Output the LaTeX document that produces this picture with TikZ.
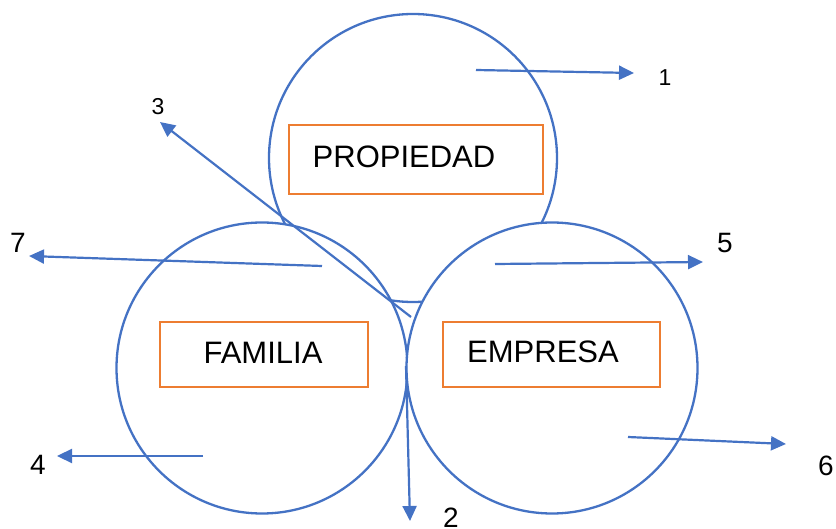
\documentclass[tikz,border=0pt]{standalone}
\usepackage{fontspec}
\setmainfont{Liberation Sans}
\usetikzlibrary{arrows.meta}
\definecolor{cblue}{HTML}{4472C4}
\definecolor{corange}{HTML}{ED7D31}
\tikzset{
  ring/.style={circle, draw=cblue, fill=white, line width=2.3pt, inner sep=0pt},
  box/.style={rectangle, draw=corange, line width=2pt, inner sep=0pt},
  word/.style={font=\fontsize{31}{31}\selectfont, inner sep=0pt},
  num/.style={font=\fontsize{28}{28}\selectfont, inner sep=0pt},
  smallnum/.style={font=\fontsize{23}{23}\selectfont, inner sep=0pt},
  arr/.style={draw=cblue, line width=2.2pt, -{Triangle[length=15pt,width=14pt]}}
}
\begin{document}
\begin{tikzpicture}[x=1pt,y=-1pt]
\useasboundingbox (0,0) rectangle (836,529);
% circles (lower ones drawn over the top one)
\node[ring, minimum size=288pt] (prop) at (413,158) {};
\node[ring, minimum size=291pt] (fam) at (262,368) {};
\node[ring, minimum size=291pt] (emp) at (552,368) {};
% boxes
\node[box, minimum width=254pt, minimum height=69pt] (bprop) at (416,160) {};
\node[box, minimum width=208pt, minimum height=65pt] (bfam) at (264,355) {};
\node[box, minimum width=217pt, minimum height=65pt] (bemp) at (551,355) {};
\node[word] (tprop) at (404,157) {PROPIEDAD};
\node[word] (tfam) at (263,353) {FAMILIA};
\node[word] (temp) at (543,352) {EMPRESA};
% arrow coordinates
\coordinate (s1) at (476,70);  \coordinate (e1) at (634,73);
\coordinate (s3) at (411,317); \coordinate (e3) at (160,122);
\coordinate (s7) at (322,266); \coordinate (e7) at (29,256);
\coordinate (s5) at (495,264); \coordinate (e5) at (703,262);
\coordinate (s4) at (203,456); \coordinate (e4) at (57,456);
\coordinate (s2) at (406,366); \coordinate (e2) at (410,521);
\coordinate (s6) at (628,437); \coordinate (e6) at (786,444);
% labels
\node[smallnum] (l1) at (665,78) {1};
\node[smallnum] (l3) at (158,107) {3};
\node[num] (l7) at (18,243) {7};
\node[num] (l5) at (725,243) {5};
\node[num] (l4) at (38,465) {4};
\node[num] (l6) at (826,466) {6};
\node[num] (l2) at (451,518) {2};
% arrows
\draw[arr] (s1) -- (e1);
\draw[arr] (s3) -- (e3);
\draw[arr] (s7) -- (e7);
\draw[arr] (s5) -- (e5);
\draw[arr] (s4) -- (e4);
\draw[arr] (s2) -- (e2);
\draw[arr] (s6) -- (e6);
\end{tikzpicture}
\end{document}
